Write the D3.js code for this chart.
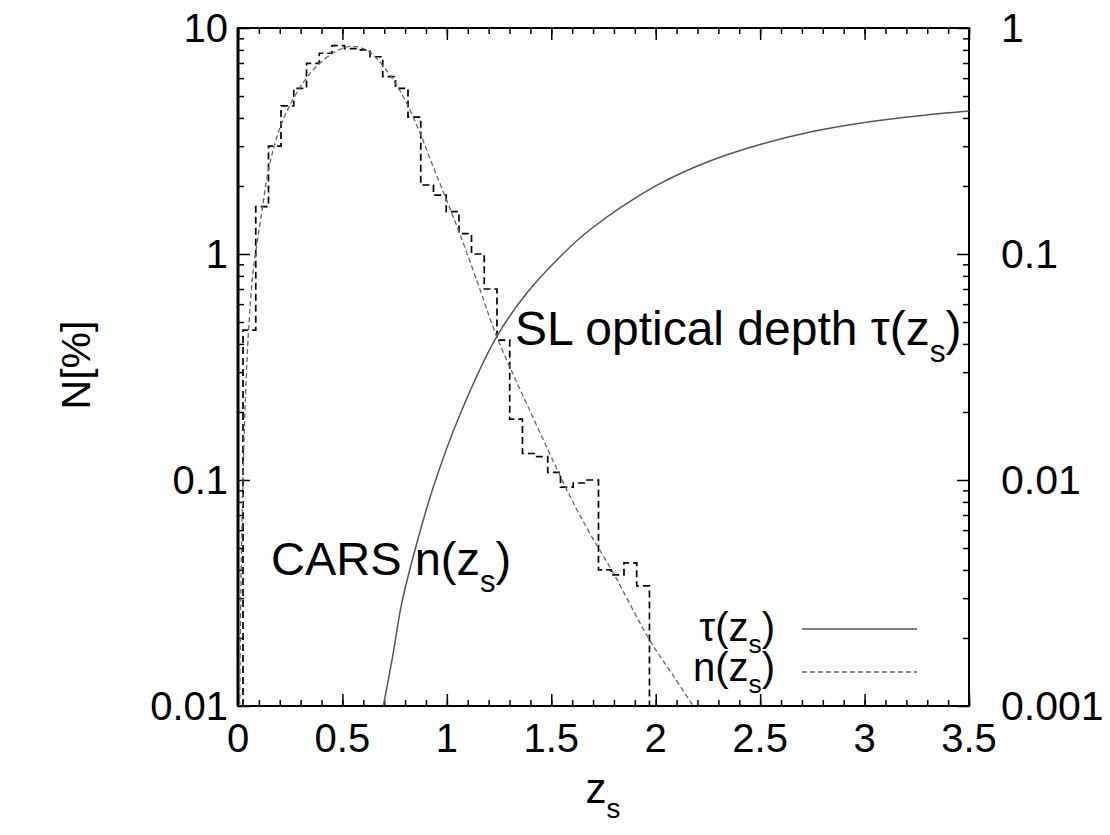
<!DOCTYPE html>
<html>
<head>
<meta charset="utf-8">
<script src="https://cdn.jsdelivr.net/npm/d3@7"></script>
<style>
  html, body { margin: 0; padding: 0; background: #fff; }
  text { font-family: "Liberation Sans", Arial, sans-serif; fill: #000; }
</style>
</head>
<body>
<svg id="chart" width="1110" height="835"></svg>
<script>
// ---- data ----
const binEdges = [0.024, 0.085, 0.146, 0.206, 0.267, 0.328, 0.389, 0.450, 0.510, 0.571,
  0.632, 0.693, 0.754, 0.814, 0.875, 0.936, 0.997, 1.058, 1.118, 1.179,
  1.240, 1.301, 1.362, 1.422, 1.483, 1.544, 1.605, 1.666, 1.726, 1.787,
  1.848, 1.909, 1.970];
const binValues = [0.46, 1.62, 3.0, 4.52, 5.41, 6.98, 7.73, 8.35, 8.1, 8.0,
  7.46, 6.09, 5.41, 4.03, 2.02, 1.82, 1.54, 1.23, 1.0, 0.70,
  0.416, 0.186, 0.131, 0.127, 0.108, 0.093, 0.097, 0.10, 0.040, 0.038,
  0.043, 0.034];

const nCurveZ = [0.008, 0.015, 0.025, 0.034, 0.05, 0.07, 0.09, 0.11, 0.149, 0.197, 0.245, 0.31,
  0.374, 0.453, 0.5, 0.55, 0.6, 0.648, 0.744, 0.808, 0.872, 0.935, 0.999, 1.063, 1.158,
  1.239, 1.39, 1.589, 1.685, 1.789, 1.972, 2.08, 2.18];
const nCurveN = [0.01, 0.04, 0.11, 0.21, 0.45, 0.8, 1.1, 1.45, 2.43, 3.54, 4.49, 5.69,
  6.74, 7.73, 8.13, 8.3, 8.1, 7.6, 5.89, 4.64, 3.42, 2.43, 1.73, 1.22, 0.70,
  0.43, 0.21, 0.085, 0.058, 0.040, 0.0195, 0.0138, 0.01];

const tauZ = [0.696, 0.74, 0.784, 0.85, 0.935, 1.063, 1.238, 1.382, 1.541, 1.685,
  2.0, 2.25, 2.5, 2.75, 3.0, 3.25, 3.5];
const tauV = [0.001, 0.00165, 0.00285, 0.0050, 0.0093, 0.0195, 0.043, 0.067, 0.097, 0.128,
  0.200, 0.256, 0.305, 0.348, 0.382, 0.408, 0.429];

const xMajorTicks = [0, 0.5, 1, 1.5, 2, 2.5, 3, 3.5];
const xTickLabels = ["0", "0.5", "1", "1.5", "2", "2.5", "3", "3.5"];
const yLeftTicks = [0.01, 0.1, 1, 10];
const yLeftLabels = ["0.01", "0.1", "1", "10"];
const yRightTicks = [0.001, 0.01, 0.1, 1];
const yRightLabels = ["0.001", "0.01", "0.1", "1"];

// ---- layout ----
const L = 238, R = 969, T = 28, B = 706;
const svg = d3.select("#chart");

const x = d3.scaleLinear().domain([0, 3.5]).range([L, R]);
const y = d3.scaleLog().domain([0.01, 10]).range([B, T]);
const y2 = d3.scaleLog().domain([0.001, 1]).range([B, T]);

// minor tick values
const xMinor = d3.range(0, 36).map(i => i / 10);
const yMinorL = [];
[0.01, 0.1, 1].forEach(d => { for (let k = 2; k <= 9; k++) yMinorL.push(d * k); });
const yMinorR = [];
[0.001, 0.01, 0.1].forEach(d => { for (let k = 2; k <= 9; k++) yMinorR.push(d * k); });

function styleAxis(g) {
  g.select(".domain").remove();
  g.selectAll(".tick line").attr("stroke", "#000").attr("stroke-width", 1.5);
  g.selectAll(".tick text").remove();
}

// bottom
svg.append("g").attr("transform", `translate(0,${B})`)
  .call(d3.axisBottom(x).tickValues(xMinor).tickSize(-6)).call(styleAxis);
svg.append("g").attr("transform", `translate(0,${B})`)
  .call(d3.axisBottom(x).tickValues(xMajorTicks).tickSize(-12)).call(styleAxis);
// top
svg.append("g").attr("transform", `translate(0,${T})`)
  .call(d3.axisTop(x).tickValues(xMinor).tickSize(-6)).call(styleAxis);
svg.append("g").attr("transform", `translate(0,${T})`)
  .call(d3.axisTop(x).tickValues(xMajorTicks).tickSize(-12)).call(styleAxis);
// left
svg.append("g").attr("transform", `translate(${L},0)`)
  .call(d3.axisLeft(y).tickValues(yMinorL).tickSize(-6)).call(styleAxis);
svg.append("g").attr("transform", `translate(${L},0)`)
  .call(d3.axisLeft(y).tickValues(yLeftTicks).tickSize(-12)).call(styleAxis);
// right
svg.append("g").attr("transform", `translate(${R},0)`)
  .call(d3.axisRight(y2).tickValues(yMinorR).tickSize(-6)).call(styleAxis);
svg.append("g").attr("transform", `translate(${R},0)`)
  .call(d3.axisRight(y2).tickValues(yRightTicks).tickSize(-12)).call(styleAxis);

// frame
svg.append("rect").attr("x", L).attr("y", T).attr("width", R - L).attr("height", B - T)
  .attr("fill", "none").attr("stroke", "#000").attr("stroke-width", 2);
svg.append("line").attr("x1", L).attr("x2", L).attr("y1", T).attr("y2", B)
  .attr("stroke", "#000").attr("stroke-width", 3);

// tick labels
const fs = 40;
svg.append("g").selectAll("text").data(xMajorTicks).join("text")
  .attr("x", d => x(d)).attr("y", B + 46).attr("text-anchor", "middle")
  .attr("font-size", fs).text((d, i) => xTickLabels[i]);
svg.append("g").selectAll("text").data(yLeftTicks).join("text")
  .attr("x", L - 10).attr("y", d => y(d) + 14).attr("text-anchor", "end")
  .attr("font-size", fs).text((d, i) => yLeftLabels[i]);
svg.append("g").selectAll("text").data(yRightTicks).join("text")
  .attr("x", R + 32).attr("y", d => y2(d) + 14).attr("text-anchor", "start")
  .attr("font-size", 41).text((d, i) => yRightLabels[i]);

// clip
svg.append("clipPath").attr("id", "clip").append("rect")
  .attr("x", L).attr("y", T).attr("width", R - L).attr("height", B - T);
const plot = svg.append("g").attr("clip-path", "url(#clip)");

// histogram
const histPts = [[binEdges[0], 0.01]];
binValues.forEach((v, i) => { histPts.push([binEdges[i], v]); histPts.push([binEdges[i + 1], v]); });
histPts.push([binEdges[binEdges.length - 1], 0.01]);
const lineN = d3.line().x(d => x(d[0])).y(d => y(Math.max(d[1], 0.01)));
plot.append("path").attr("d", lineN(histPts)).attr("fill", "none")
  .attr("stroke", "#000").attr("stroke-width", 1.7).attr("stroke-dasharray", "7,4");

// smooth n(z) curve
const nPts = nCurveZ.map((z, i) => [z, nCurveN[i]]);
plot.append("path").attr("d", d3.line().x(d => x(d[0])).y(d => y(d[1])).curve(d3.curveCatmullRom.alpha(0.5))(nPts))
  .attr("fill", "none").attr("stroke", "#666").attr("stroke-width", 1.3).attr("stroke-dasharray", "5,3");

// tau curve
const tPts = tauZ.map((z, i) => [z, tauV[i]]);
plot.append("path").attr("d", d3.line().x(d => x(d[0])).y(d => y2(d[1])).curve(d3.curveCatmullRom.alpha(0.5))(tPts))
  .attr("fill", "none").attr("stroke", "#555").attr("stroke-width", 1.5);

// text with subscript helper
function subText(px, py, pre, sub, post, size, anchor, shift) {
  const s = shift || 0.36;
  const t = svg.append("text").attr("x", px).attr("y", py).attr("font-size", size)
    .attr("text-anchor", anchor || "start");
  t.append("tspan").text(pre);
  t.append("tspan").attr("font-size", size * 0.66).attr("dy", size * s).text(sub);
  t.append("tspan").attr("dy", -size * s).text(post);
  return t;
}

subText(515, 345, "SL optical depth \u03C4(z", "s", ")", 48);
subText(271, 575, "CARS n(z", "s", ")", 47);

// legend
subText(775, 641, "\u03C4(z", "s", ")", 40, "end", 0.3);
subText(775, 681, "n(z", "s", ")", 40, "end", 0.3);
svg.append("line").attr("x1", 802).attr("x2", 917).attr("y1", 629).attr("y2", 629)
  .attr("stroke", "#555").attr("stroke-width", 1.5);
svg.append("line").attr("x1", 802).attr("x2", 917).attr("y1", 672).attr("y2", 672)
  .attr("stroke", "#666").attr("stroke-width", 1.3).attr("stroke-dasharray", "5,3");

// axis titles
subText(603, 803, "z", "s", "", 42, "middle");
svg.append("text").attr("transform", "translate(90,365) rotate(-90)")
  .attr("text-anchor", "middle").attr("font-size", 41).text("N[%]");
</script>
</body>
</html>
